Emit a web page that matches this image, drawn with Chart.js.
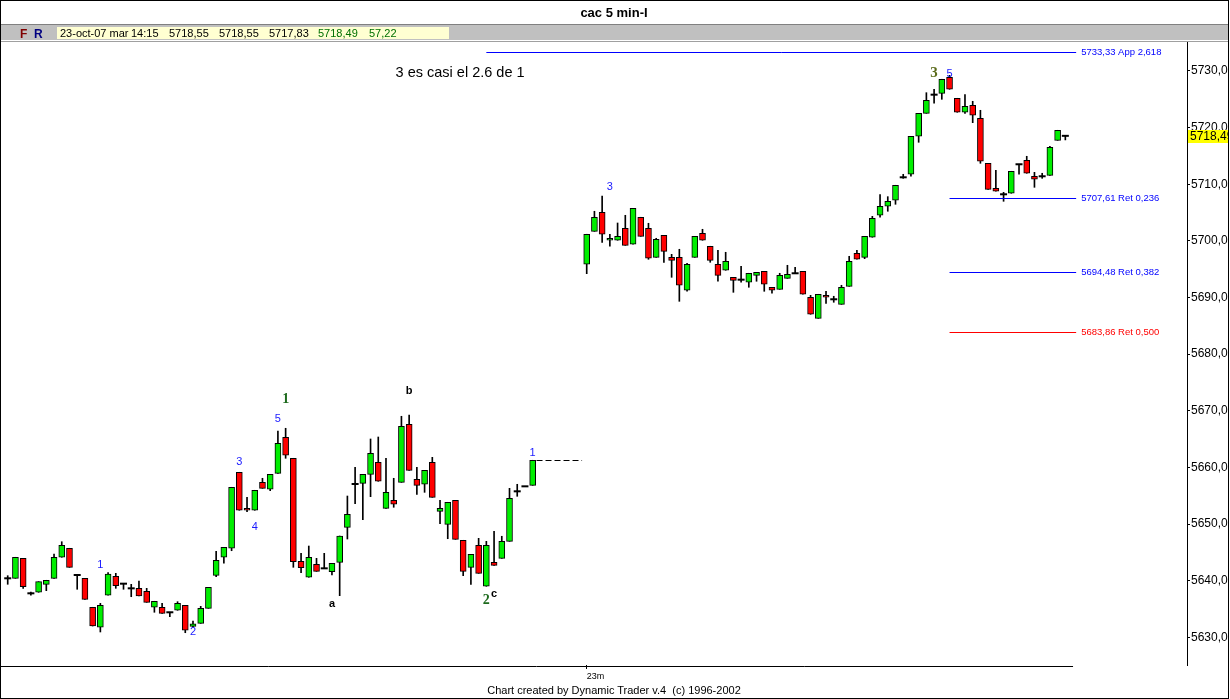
<!DOCTYPE html>
<html><head><meta charset="utf-8">
<script src="https://cdn.jsdelivr.net/npm/chart.js@4.4.1/dist/chart.umd.min.js"></script>
<style>
html,body{margin:0;padding:0;background:#fff;}
#wrap{position:relative;width:1230px;height:699px;overflow:hidden;background:#fff;font-family:'Liberation Sans',Arial,sans-serif;color:#000;}
#c{position:absolute;left:0;top:0;}
#title{position:absolute;left:0;top:4px;width:1228px;text-align:center;font-weight:bold;font-size:13px;line-height:17px;}
#band{position:absolute;left:0;top:24px;width:1230px;height:15px;background:#c0c0c0;border-top:1px solid #808080;}
#band2{position:absolute;left:0;top:41px;width:1230px;height:1px;background:#a0a0a0;}
.fr{position:absolute;top:3px;font-weight:bold;font-size:12px;line-height:12px;}
#box{position:absolute;left:57px;top:2px;width:392px;height:12px;background:#ffffd2;}
#box span{position:absolute;top:0;font-size:11px;line-height:12px;white-space:nowrap;}
#footer{position:absolute;left:0;top:683px;width:1228px;text-align:center;font-size:11px;line-height:14px;white-space:pre;}
#frame{position:absolute;left:0;top:0;width:1229px;height:699px;box-sizing:border-box;border:1px solid #000;pointer-events:none;}
#edge{position:absolute;left:1229px;top:0;width:1px;height:699px;background:#fff;}
</style></head>
<body>
<div id="wrap">
<canvas id="c" width="1230" height="699"></canvas>
<div id="title">cac 5 min-I</div>
<div id="band">
  <span class="fr" style="left:20px;color:#800000">F</span>
  <span class="fr" style="left:34px;color:#000080">R</span>
  <div id="box">
    <span style="left:3px">23-oct-07 mar</span>
    <span style="left:74px">14:15</span>
    <span style="left:112px">5718,55</span>
    <span style="left:162px">5718,55</span>
    <span style="left:212px">5717,83</span>
    <span style="left:261px;color:#007000">5718,49</span>
    <span style="left:312px;color:#007000">57,22</span>
  </div>
</div>
<div id="band2"></div>
<div id="footer">Chart created by Dynamic Trader v.4  (c) 1996-2002</div>
<div id="frame"></div>
<div id="edge"></div>
</div>
<script>
// ---- data (5-min bars, index = bar slot; null = no bar) ----
const opens = [5640.42,5640.42,5643.95,5637.77,5637.95,5639.36,5640.42,5644.13,5645.72,5641.00,
5640.42,5635.30,5631.77,5637.42,5640.77,5639.47,5638.65,5638.65,5638.12,5635.30,
5635.30,5634.42,5634.77,5635.65,5631.94,5632.47,5635.12,5640.95,5644.13,5645.72,
5659.14,5652.78,5652.43,5657.37,5656.14,5658.96,5665.32,5661.61,5643.42,5640.60,
5642.89,5642.18,5641.58,5643.24,5649.42,5657.07,5657.19,5658.78,5660.90,5652.78,
5654.19,5657.37,5667.61,5657.90,5657.02,5660.90,5652.25,5649.95,5654.19,5647.13,
5642.36,5646.25,5639.01,5643.24,5643.95,5646.95,5655.78,5656.66,5656.84,
null,null,null,null,null,null,
5695.87,5701.69,5705.05,5700.11,5700.11,5702.23,5699.40,5704.17,5702.23,5697.10,
5700.99,5697.10,5697.10,5691.28,5697.10,5701.34,5699.05,5695.87,5694.81,5693.57,
5693.15,5692.69,5693.92,5694.63,5691.81,5691.45,5693.39,5694.28,5694.63,5690.04,
5686.33,5690.39,5689.69,5688.80,5691.98,5697.81,5697.10,5700.64,5704.52,5706.11,
5707.17,5711.23,5711.76,5718.47,5722.53,5725.82,5726.06,5728.89,5725.18,5722.71,
5723.95,5721.65,5713.70,5709.29,5708.23,5708.41,5713.53,5714.23,5711.41,5711.41,
5711.58,5717.76,5718.55];
const highs = [5640.88,5644.13,5643.95,5638.00,5639.82,5640.07,5644.71,5646.88,5645.72,5641.00,
5640.42,5635.30,5636.00,5641.41,5641.30,5639.47,5639.36,5639.94,5638.65,5636.36,
5636.00,5634.42,5636.29,5635.65,5632.88,5635.47,5638.83,5645.19,5645.89,5656.49,
5659.14,5654.72,5655.96,5658.08,5658.78,5666.43,5666.91,5661.61,5644.83,5646.12,
5643.95,5644.83,5643.07,5647.89,5654.95,5660.02,5658.78,5665.02,5665.37,5661.61,
5658.08,5669.03,5669.26,5660.02,5659.49,5661.78,5654.19,5653.84,5654.19,5647.13,
5644.66,5647.48,5646.95,5648.72,5647.84,5656.31,5657.02,5656.66,5661.26,
null,null,null,null,null,null,
5701.17,5705.23,5707.93,5701.17,5703.16,5704.52,5705.76,5704.17,5703.11,5700.46,
5700.99,5697.63,5698.52,5696.04,5700.81,5702.05,5699.05,5698.34,5697.99,5693.57,
5695.51,5694.28,5694.45,5694.63,5691.81,5694.28,5695.69,5695.34,5694.63,5690.39,
5690.57,5691.10,5690.22,5692.16,5697.28,5698.34,5700.81,5704.34,5708.16,5707.81,
5709.82,5711.76,5718.47,5722.53,5726.17,5726.77,5728.54,5729.24,5725.18,5725.82,
5724.65,5723.06,5713.70,5712.47,5708.58,5712.29,5713.53,5714.94,5712.11,5711.94,
5716.71,5719.53,5718.55];
const lows = [5639.36,5640.42,5638.65,5637.42,5637.95,5638.23,5640.42,5644.13,5642.36,5638.48,
5636.71,5631.99,5630.94,5637.42,5638.65,5638.48,5637.17,5637.29,5636.18,5634.42,
5634.24,5633.64,5634.77,5630.81,5631.77,5632.47,5635.12,5640.70,5643.07,5645.29,
5652.43,5652.18,5652.43,5656.31,5655.89,5658.96,5661.61,5642.36,5641.41,5640.60,
5641.65,5642.18,5641.00,5637.35,5647.36,5653.59,5650.77,5654.83,5657.55,5652.78,
5652.96,5657.37,5659.49,5655.22,5655.60,5654.72,5650.06,5647.41,5647.30,5640.88,
5639.36,5641.30,5639.01,5642.71,5643.95,5646.95,5654.90,5656.66,5656.84,
null,null,null,null,null,null,
5694.21,5701.69,5699.75,5699.05,5700.11,5699.22,5699.40,5700.81,5696.75,5697.10,
5696.22,5693.57,5689.33,5691.10,5697.10,5700.11,5696.22,5692.87,5694.81,5690.92,
5692.69,5691.81,5692.87,5691.10,5690.75,5691.45,5693.39,5694.28,5690.57,5687.04,
5686.33,5688.98,5689.16,5688.80,5691.98,5696.75,5696.86,5700.64,5704.17,5705.23,
5706.46,5711.05,5711.41,5717.41,5722.53,5724.30,5725.00,5726.77,5722.71,5722.53,
5720.87,5713.70,5709.11,5708.76,5706.99,5708.41,5711.76,5711.94,5709.46,5711.05,
5711.58,5717.76,5717.83];
const closes = [5640.42,5644.13,5638.93,5637.77,5639.82,5640.07,5644.13,5646.25,5642.36,5641.00,
5636.71,5631.99,5635.65,5641.18,5639.11,5639.47,5638.65,5637.29,5636.18,5636.36,
5634.24,5634.42,5636.00,5631.24,5632.40,5635.12,5638.83,5643.60,5645.89,5656.49,
5652.43,5652.43,5655.96,5656.31,5658.78,5664.26,5662.14,5643.35,5642.29,5644.13,
5641.65,5642.18,5643.07,5647.89,5651.72,5657.07,5658.78,5662.49,5657.55,5655.60,
5653.49,5667.26,5659.49,5656.84,5659.49,5654.72,5652.78,5653.84,5647.30,5641.65,
5644.66,5641.30,5646.25,5642.71,5646.95,5654.54,5655.78,5656.66,5661.26,
null,null,null,null,null,null,
5701.17,5704.17,5701.17,5700.46,5700.81,5699.22,5705.76,5700.81,5696.93,5700.28,
5698.16,5696.57,5692.16,5695.87,5700.81,5700.11,5696.57,5693.92,5696.40,5693.04,
5693.15,5694.28,5694.45,5692.34,5691.28,5693.92,5694.10,5694.28,5690.57,5687.04,
5690.57,5690.04,5689.69,5691.81,5696.40,5696.75,5700.81,5703.99,5706.11,5706.99,
5709.82,5711.23,5718.47,5722.53,5724.83,5725.82,5728.54,5726.77,5722.71,5723.77,
5722.18,5714.06,5709.11,5708.76,5708.23,5712.29,5713.53,5711.94,5710.88,5711.41,
5716.53,5719.53,5718.49];

const sessionStarts = [75];
const sessionLabels = ['23m'];
const yTicks = [5630,5640,5650,5660,5670,5680,5690,5700,5710,5720,5730];

const fibLevels = [5733.33, 5707.61, 5694.48, 5683.86];
const fibTexts  = ['5733,33 App 2,618', '5707,61 Ret 0,236', '5694,48 Ret 0,382', '5683,86 Ret 0,500'];
const fibStartBar = [62, 122, 122, 122];

const annTexts  = ['1','2','3','4','5','1','a','b','2','c','1','3','3','5','3 es casi el 2.6 de 1'];
const annBars   = [12, 24, 30, 32, 35, 36, 42, 52, 62, 63, 68, 78, 120, 122, 58.6];
const annPrices = [5642.77,5631.00,5660.96,5649.53,5668.50,5672.03,5635.83,5673.49,5636.59,5637.65,5662.49,5709.57,5729.60,5729.47,5729.65];
const annKinds  = ['w','w','w','w','w','W','L','L','W','L','w','w','T','w','S'];

// ---- build datasets ----
const GREEN = '#00ee00', RED = '#ff0000';
const wicks = [], bodies = [], bodyColors = [], dojis = [];
opens.forEach((o, i) => {
  if (o === null) return;
  wicks.push({x: i, y: [lows[i], highs[i]]});
  if (Math.abs(closes[i] - o) < 0.2) {
    dojis.push({x: i, y: o});
  } else {
    bodies.push({x: i, y: [o, closes[i]]});
    bodyColors.push(closes[i] > o ? GREEN : RED);
  }
});

const FONT = "'Liberation Sans', Arial, sans-serif";
Chart.defaults.font.family = FONT;

const overlay = {
  id: 'overlay',
  afterDraw(chart) {
    const {ctx, chartArea, scales: {x, y}} = chart;
    ctx.save();
    // x axis base line
    ctx.strokeStyle = '#000'; ctx.lineWidth = 1;
    ctx.beginPath();
    ctx.moveTo(0, 666.5); ctx.lineTo(x.getPixelForValue(138), 666.5);
    ctx.stroke();
    // fib lines
    const fibColors = ['#0000ff', '#0000ff', '#0000ff', '#ff0000'];
    const xEnd = x.getPixelForValue(138.4);
    fibLevels.forEach((lv, k) => {
      const py = Math.round(y.getPixelForValue(lv)) + 0.5;
      ctx.strokeStyle = fibColors[k];
      ctx.beginPath(); ctx.moveTo(x.getPixelForValue(fibStartBar[k]), py); ctx.lineTo(xEnd, py); ctx.stroke();
      ctx.fillStyle = fibColors[k];
      ctx.font = '9.5px ' + FONT; ctx.textAlign = 'left'; ctx.textBaseline = 'middle';
      ctx.fillText(fibTexts[k], xEnd + 5, py);
    });
    // projection dashed line from last bar of session 1
    const pv = Math.round(y.getPixelForValue(closes[68])) + 0.5;
    ctx.strokeStyle = '#000'; ctx.setLineDash([6, 3]);
    ctx.beginPath(); ctx.moveTo(x.getPixelForValue(68.5), pv); ctx.lineTo(x.getPixelForValue(74.4), pv); ctx.stroke();
    ctx.setLineDash([]);
    // annotations
    annTexts.forEach((t, k) => {
      const px = x.getPixelForValue(annBars[k]), py = y.getPixelForValue(annPrices[k]);
      const kind = annKinds[k];
      if (kind === 'w') { ctx.font = '11px ' + FONT; ctx.fillStyle = '#1a1aff'; }
      else if (kind === 'W') { ctx.font = "bold 14px 'Liberation Serif', serif"; ctx.fillStyle = '#1d6a1d'; }
      else if (kind === 'T') { ctx.font = "bold 15px 'Liberation Serif', serif"; ctx.fillStyle = '#5a6a1a'; }
      else if (kind === 'L') { ctx.font = 'bold 11px ' + FONT; ctx.fillStyle = '#000'; }
      else { ctx.font = '14.5px ' + FONT; ctx.fillStyle = '#000'; }
      ctx.textAlign = 'center'; ctx.textBaseline = 'middle';
      ctx.fillText(t, px, py);
    });
    // last price box on axis
    const last = closes[closes.length - 1];
    const ly = y.getPixelForValue(last);
    ctx.fillStyle = '#ffff00';
    ctx.fillRect(chartArea.right + 1, Math.round(ly) - 6, 42, 13);
    ctx.fillStyle = '#000'; ctx.font = '12px ' + FONT; ctx.textAlign = 'left'; ctx.textBaseline = 'middle';
    ctx.fillText(last.toFixed(2).replace('.', ','), chartArea.right + 3, Math.round(ly) + 0.5);
    ctx.restore();
  }
};

new Chart(document.getElementById('c'), {
  type: 'bar',
  data: {
    datasets: [
      {type: 'bar', data: wicks, backgroundColor: '#000', barThickness: 1, grouped: false, order: 3},
      {type: 'bar', data: bodies, backgroundColor: bodyColors, borderColor: '#000', borderWidth: 1,
       borderSkipped: false, barThickness: 6, grouped: false, minBarLength: 2, order: 2},
      {type: 'scatter', data: dojis, pointStyle: 'line', pointRadius: 3.5, borderColor: '#000',
       borderWidth: 2, order: 1}
    ]
  },
  options: {
    responsive: false, animation: false, devicePixelRatio: 1,
    layout: {autoPadding: false, padding: {top: 42, left: 1, right: 0, bottom: 0}},
    plugins: {legend: {display: false}, tooltip: {enabled: false}},
    scales: {
      x: {
        type: 'linear', min: -0.87, max: 152.76, offset: false,
        grid: {display: true, drawOnChartArea: false, drawTicks: true, tickLength: 4, color: '#000', offset: false},
        border: {display: false},
        afterBuildTicks: s => { s.ticks = sessionStarts.map(v => ({value: v})); },
        afterFit: s => { s.height = 34; s.paddingLeft = 0; s.paddingRight = 0; },
        ticks: {
          callback: v => { const k = sessionStarts.indexOf(v); return k >= 0 ? sessionLabels[k] : ''; },
          font: {size: 9}, color: '#000', align: 'start', padding: 2, maxRotation: 0, autoSkip: false
        }
      },
      y: {
        position: 'right', min: 5625.11, max: 5735.12,
        afterBuildTicks: s => { s.ticks = yTicks.map(v => ({value: v})); },
        afterFit: s => { s.width = 43; s.paddingTop = 0; s.paddingBottom = 0; },
        grid: {drawOnChartArea: false, drawTicks: true, tickLength: 3, color: '#000'},
        border: {display: true, color: '#000', width: 1},
        ticks: {
          callback: v => Number(v).toFixed(2).replace('.', ','),
          font: {size: 12}, color: '#000', padding: 1, autoSkip: false
        }
      }
    }
  },
  plugins: [overlay]
});
</script>
</body></html>
